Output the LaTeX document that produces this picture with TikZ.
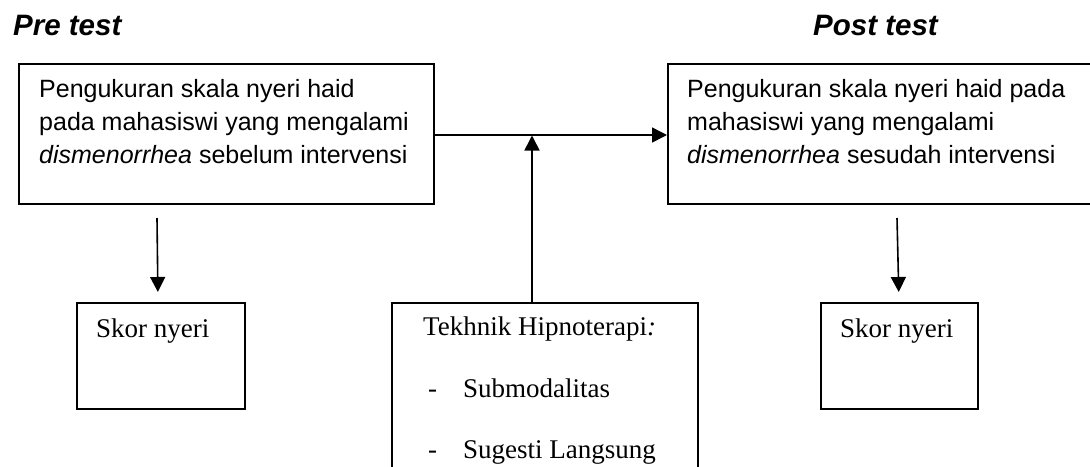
\documentclass[tikz,border=0pt]{standalone}
\usepackage{fontspec}
\setmainfont{Liberation Serif}
\newfontfamily\arialfont{Liberation Sans}
\usetikzlibrary{arrows.meta}
\tikzset{
  boxed/.style={draw=black, line width=1.6pt, anchor=north west, inner sep=0pt},
  conn/.style={line width=1.6pt, -{Triangle[length=15pt,width=15pt]}},
  sanstext/.style={anchor=base west, inner sep=0pt, font=\arialfont\fontsize{25}{33}\selectfont},
  headtext/.style={anchor=base west, inner sep=0pt, font=\arialfont\bfseries\itshape\fontsize{29.5}{32}\selectfont},
  seriftext/.style={anchor=base west, inner sep=0pt, font=\fontsize{27}{32}\selectfont},
}
\begin{document}
\begin{tikzpicture}[x=1pt, y=-1pt]
\useasboundingbox (0,0) rectangle (1090,466);
\clip (0,0) rectangle (1090,466);
% headings
\node[headtext] (pre) at (13,35) {Pre test};
\node[headtext] (post) at (813,35) {Post test};
% big boxes
\node[boxed, minimum width=415pt, minimum height=140pt] (preb) at (18,63) {};
\node[boxed, minimum width=440pt, minimum height=140pt] (postb) at (667,63) {};
\node[sanstext] (pretxt) at (39,97) {\parbox[t]{390pt}{\raggedright Pengukuran skala nyeri haid\\pada mahasiswi yang mengalami\\\textit{dismenorrhea} sebelum intervensi}};
\node[sanstext] (posttxt) at (687,97) {\parbox[t]{390pt}{\raggedright Pengukuran skala nyeri haid pada\\mahasiswi yang mengalami\\\textit{dismenorrhea} sesudah intervensi}};
% score boxes
\node[boxed, minimum width=168pt, minimum height=106pt] (skorL) at (76,302) {};
\node[boxed, minimum width=157pt, minimum height=106pt] (skorR) at (820,302) {};
\node[seriftext] (skorLt) at (96,337) {Skor nyeri};
\node[seriftext] (skorRt) at (840,337) {Skor nyeri};
% technique box
\node[boxed, minimum width=306pt, minimum height=200pt] (tek) at (391,302) {};
\node[seriftext] (tek1) at (423,335) {Tekhnik Hipnoterapi\textit{:}};
\node[seriftext] (d1) at (428,397) {-};
\node[seriftext] (s1) at (463,397) {Submodalitas};
\node[seriftext] (d2) at (428,458) {-};
\node[seriftext] (s2) at (463,458) {Sugesti Langsung};
% connectors
\coordinate (j) at (532,135);
\coordinate (aL) at (157,218);
\coordinate (aR) at (897,218);
\draw[conn] (preb.east |- j) -- (postb.west |- j);
\draw[conn, shorten >=0.5pt] (tek.north -| j) -- (j);
\draw[conn, shorten >=10pt] (aL) -- ([xshift=1pt]aL |- skorL.north);
\draw[conn, shorten >=10pt] (aR) -- ([xshift=2pt]aR |- skorR.north);
\end{tikzpicture}
\end{document}
